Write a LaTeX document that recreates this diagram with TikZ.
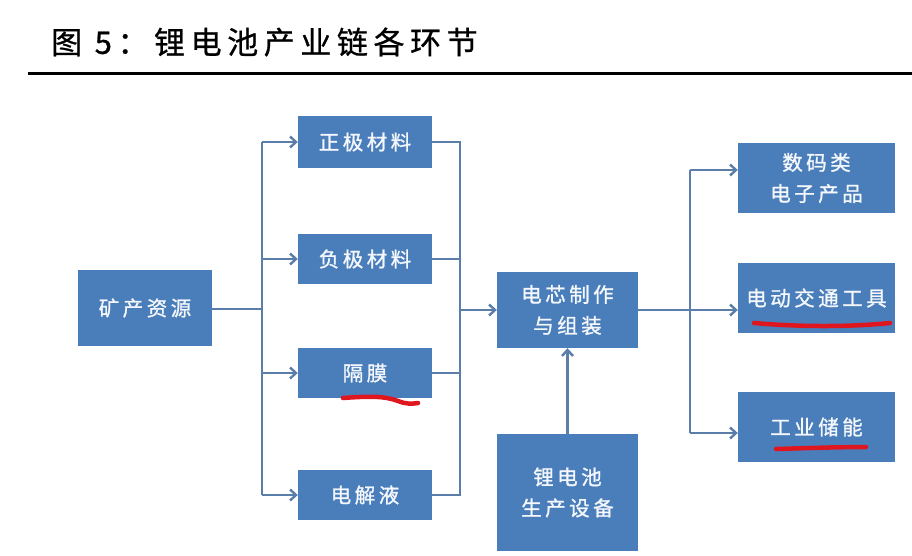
\documentclass[tikz,border=0pt]{standalone}
\usepackage{fontspec}
\setmainfont{Noto Sans CJK SC}
\newfontfamily\cjk[LetterSpace=17,FakeBold=1.2]{Noto Sans CJK SC}
\newfontfamily\cjktitle[LetterSpace=18,FakeBold=0.8]{Noto Sans CJK SC}
\usetikzlibrary{arrows.meta}
\definecolor{boxblue}{HTML}{4A7EBB}
\definecolor{linec}{HTML}{5B7DAA}
\definecolor{redm}{HTML}{E0161E}
\definecolor{boxtext}{HTML}{F4F7FB}
\begin{document}
\begin{tikzpicture}[x=1pt,y=-1pt,
  box/.style={fill=boxblue, text=boxtext, font=\cjk\fontsize{20.5}{31}\selectfont, align=center, inner sep=0pt},
  conn/.style={draw=linec, line width=2.8pt},
  arr/.style={conn, -{Straight Barb[length=6pt,width=11pt,line width=2.4pt]}},
  redline/.style={draw=redm, line width=4.5pt, line cap=round}]
\useasboundingbox (0,0) rectangle (912,555);
\fill[white] (0,0) rectangle (912,555);
% title
\node[anchor=west, font=\cjktitle\fontsize{31}{34}\selectfont, inner sep=0pt] (title) at (51,42) {图 5：锂电池产业链各环节};
\draw[line width=3pt] (28,73) -- (912,73);
% boxes
\node[box, minimum width=134pt, minimum height=76pt] (kc) at (145,308) {矿产资源};
\node[box, minimum width=134pt, minimum height=52pt] (zj) at (365,142) {正极材料};
\node[box, minimum width=134pt, minimum height=50pt] (fj) at (365,259) {负极材料};
\node[box, minimum width=134pt, minimum height=50pt] (gm) at (365,373) {隔膜};
\node[box, minimum width=134pt, minimum height=50pt] (dj) at (365,495) {电解液};
\node[box, minimum width=141pt, minimum height=76pt] (dx) at (567.5,310) {电芯制作\\与组装};
\node[box, minimum width=141pt, minimum height=117pt] (sb) at (567.5,492.5) {锂电池\\生产设备};
\node[box, minimum width=157pt, minimum height=70pt] (sm) at (816.5,178) {数码类\\电子产品};
\node[box, minimum width=157pt, minimum height=70pt] (dd) at (816.5,298) {电动交通工具};
\node[box, minimum width=157pt, minimum height=70pt] (gy) at (816.5,427) {工业储能};
% left bus
\coordinate (lb) at (262,309);
\draw[conn] (kc.east |- lb) -- (lb);
\draw[conn] (lb |- zj.west) -- (lb |- dj.west);
\draw[arr] (lb |- zj.west) -- (zj.west);
\draw[arr] (lb |- fj.west) -- (fj.west);
\draw[arr] (lb |- gm.west) -- (gm.west);
\draw[arr] (lb |- dj.west) -- (dj.west);
% right bus
\coordinate (rb) at (460,310);
\draw[conn] (zj.east) -- (rb |- zj.east) -- (rb |- dj.east) -- (dj.east);
\draw[conn] (fj.east) -- (rb |- fj.east);
\draw[conn] (gm.east) -- (rb |- gm.east);
\draw[arr] (rb) -- (dx.west |- rb);
% equipment
\draw[arr] (sb.north) -- (dx.south);
% output bus
\coordinate (ob) at (690,310);
\coordinate (o1) at (690,170);
\coordinate (o3) at (690,433);
\draw[conn] (dx.east |- ob) -- (ob);
\draw[conn] (o1) -- (o3);
\draw[arr] (o1) -- (sm.west |- o1);
\draw[arr] (ob) -- (dd.west |- ob);
\draw[arr] (o3) -- (gy.west |- o3);
% red marks
\draw[redline] (343,398) .. controls (370,396) and (385,396) .. (398,401) .. controls (405,404) and (412,404) .. (418,403);
\draw[redline] (754,323) .. controls (800,327) and (850,327) .. (890,323);
\draw[redline] (776,449) .. controls (810,448) and (840,447) .. (866,447);
\end{tikzpicture}
\end{document}
